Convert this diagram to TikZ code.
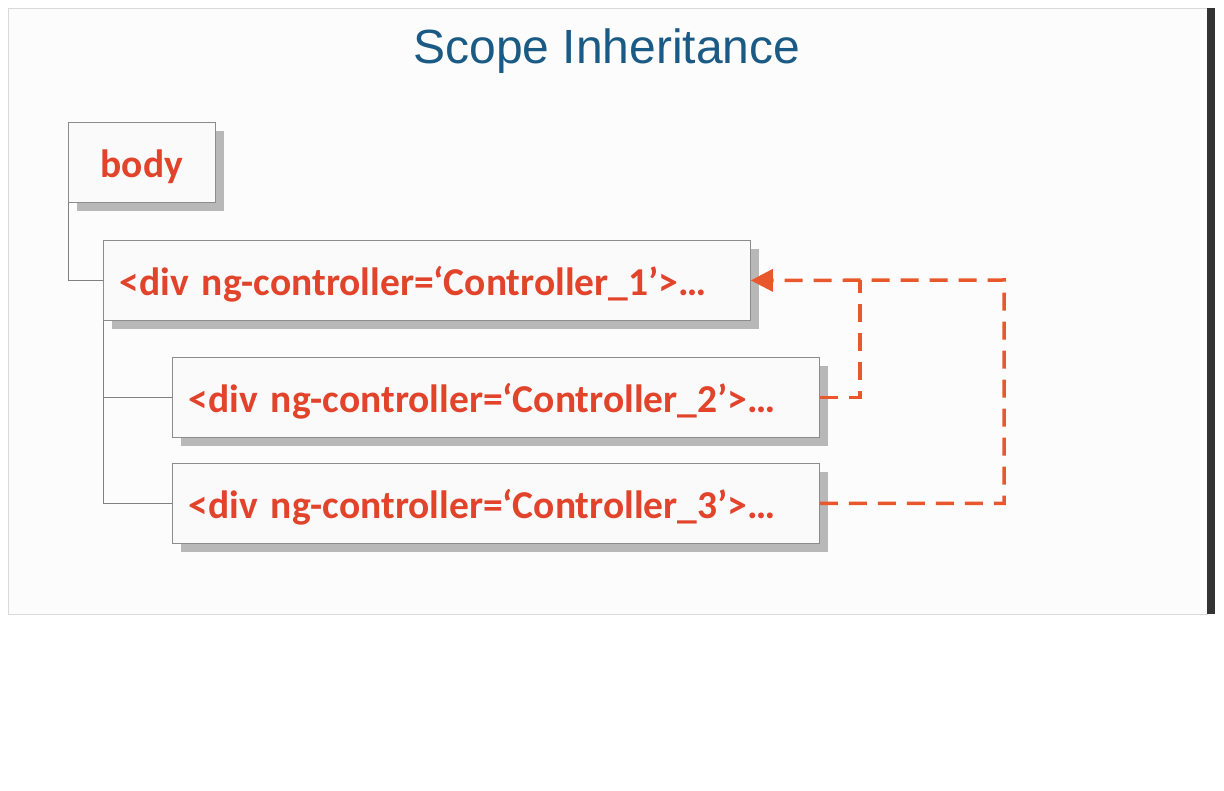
\documentclass[tikz,border=0pt]{standalone}
\usepackage{fontspec}
\setmainfont{Carlito}
\newfontfamily\titlefont{Liberation Sans}
\usetikzlibrary{arrows.meta,shadows}
\definecolor{titleblue}{HTML}{1B5A85}
\definecolor{tagred}{HTML}{E1432B}
\definecolor{linkorange}{HTML}{E8582C}

\begin{document}
\begin{tikzpicture}[x=1pt, y=-1pt,
  tagbox/.style={draw=black!45, fill=black!2, line width=0.8pt, anchor=north west,
    minimum height=80pt, inner xsep=16pt, align=left, text=tagred,
    text height=36pt, text depth=5pt,
    font=\bfseries\fontsize{39.5}{44}\selectfont,
    drop shadow={shadow xshift=9pt, shadow yshift=-9pt, fill=black!28, opacity=1}},
  treeline/.style={draw=black!50, line width=0.8pt},
  scopelink/.style={draw=linkorange, line width=3.5pt, dash pattern=on 18pt off 11pt}]
  \useasboundingbox (0,0) rectangle (1224,791);
  \fill[white] (0,0) rectangle (1224,791);
  \draw[black!15, fill=black!1] (8,8) rectangle (1207,614);
  \fill[black!80] (1207,8) rectangle (1215,614);

  \node[text=titleblue, font=\titlefont\fontsize{48}{54}\selectfont] (title) at (607,51) {Scope Inheritance};

  \node[tagbox, minimum width=147pt, align=center, text width=115pt] (body) at (68,122) {body};
  \node[tagbox, text width=615pt] (ctrl1) at (103,240) {<div ng-controller=‘Controller\_1’>…};
  \node[tagbox, text width=615pt] (ctrl2) at (172,357) {<div ng-controller=‘Controller\_2’>…};
  \node[tagbox, text width=615pt] (ctrl3) at (172,463) {<div ng-controller=‘Controller\_3’>…};

  \draw[treeline] (body.south west) |- (ctrl1.west);
  \draw[treeline] (ctrl1.south west) |- (ctrl2.west);
  \draw[treeline] (ctrl1.south west) |- (ctrl3.west);

  \coordinate (join) at (860,280);
  \draw[scopelink] (ctrl2.east) -| (join);
  \draw[scopelink, -{Triangle[length=22pt,width=22pt]}] (ctrl3.east) -| (1004,280) -- (ctrl1.east);
\end{tikzpicture}
\end{document}
